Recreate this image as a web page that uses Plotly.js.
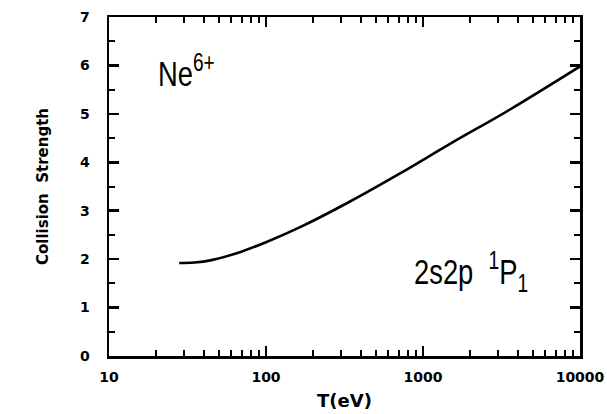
<!DOCTYPE html>
<html>
<head>
<meta charset="utf-8">
<script src="https://cdn.plot.ly/plotly-3.0.1.min.js"></script>
<style>html,body{margin:0;padding:0;background:#fff;}#chart{width:607px;height:414px;}</style>
</head>
<body>
<div id="chart"></div>
<script>
// Data
const temperature = [28, 35, 45, 65, 100, 165, 343, 714, 1486, 3580, 10000];
const collisionStrength = [1.92, 1.93, 1.98, 2.12, 2.35, 2.66, 3.19, 3.77, 4.38, 5.09, 5.98];
const xTickVals = [10, 100, 1000, 10000];
const xTickText = ['10', '100', '1000', '10000'];
const yTickVals = [0, 1, 2, 3, 4, 5, 6, 7];
const minorMultipliers = [2, 3, 4, 5, 6, 7, 8, 9];

// minor tick positions: 2..9 in each decade, and halves on the y axis
const xMinorVals = [];
xTickVals.slice(0, -1).forEach(d => minorMultipliers.forEach(m => xMinorVals.push(d * m)));
const yMinorVals = yTickVals.slice(0, -1).map(v => v + 0.5);

const boldFont = 'DejaVu Sans, Verdana, sans-serif';
const textFont = 'Liberation Sans, Arial, sans-serif';

const curve = {
  x: temperature, y: collisionStrength, type: 'scatter', mode: 'lines',
  line: {color: '#000', width: 2.6, shape: 'spline', smoothing: 1},
  hoverinfo: 'skip'
};

const layout = {
  width: 607, height: 414,
  margin: {l: 109, r: 27, t: 17, b: 58},
  paper_bgcolor: '#fff', plot_bgcolor: '#fff',
  showlegend: false,
  xaxis: {
    type: 'log', range: [1, 4],
    tickmode: 'array', tickvals: xTickVals, ticktext: xTickText,
    ticks: 'inside', ticklen: 10, tickwidth: 2.5, tickcolor: '#000',
    minor: {tickmode: 'array', tickvals: xMinorVals, ticks: 'inside', ticklen: 6, tickwidth: 2, tickcolor: '#000', showgrid: false},
    showline: true, linewidth: 2.5, linecolor: '#000', mirror: 'ticks',
    showgrid: false, zeroline: false,
    ticklabelstandoff: 7,
    tickfont: {family: boldFont, size: 14, color: '#000', weight: 'bold'},
    title: {text: 'T(eV)', font: {family: boldFont, size: 18, color: '#000', weight: 'bold'}, standoff: 10}
  },
  yaxis: {
    range: [0, 7],
    tickmode: 'array', tickvals: yTickVals,
    ticks: 'inside', ticklen: 10, tickwidth: 2.5, tickcolor: '#000',
    minor: {tickmode: 'array', tickvals: yMinorVals, ticks: 'inside', ticklen: 6, tickwidth: 2, tickcolor: '#000', showgrid: false},
    showline: true, linewidth: 2.5, linecolor: '#000', mirror: 'ticks',
    showgrid: false, zeroline: false,
    ticklabelstandoff: 14,
    tickfont: {family: boldFont, size: 14, color: '#000', weight: 'bold'},
    title: {text: 'Collision  Strength', font: {family: boldFont, size: 15, color: '#000', weight: 'bold'}, standoff: 28}
  },
  annotations: [
    {xref: 'paper', yref: 'paper', x: 0.1, y: 0.915, xanchor: 'left', yanchor: 'top',
     text: 'Ne<sup>6+</sup>', showarrow: false, font: {family: textFont, size: 36, color: '#000'}},
    {xref: 'paper', yref: 'paper', x: 0.643, y: 0.33, xanchor: 'left', yanchor: 'top',
     text: '2s2p  <sup>1</sup>P<sub>1</sub>', showarrow: false, font: {family: textFont, size: 36, color: '#000'}}
  ]
};

Plotly.newPlot('chart', [curve], layout, {displayModeBar: false, staticPlot: true}).then(() => {
  // condensed lettering like the reference
  document.querySelectorAll('#chart .annotation-text').forEach(t => {
    t.style.transformBox = 'fill-box';
    t.style.transformOrigin = '0% 50%';
    t.style.transform = 'scaleX(0.76)';
  });
});
</script>
</body>
</html>
